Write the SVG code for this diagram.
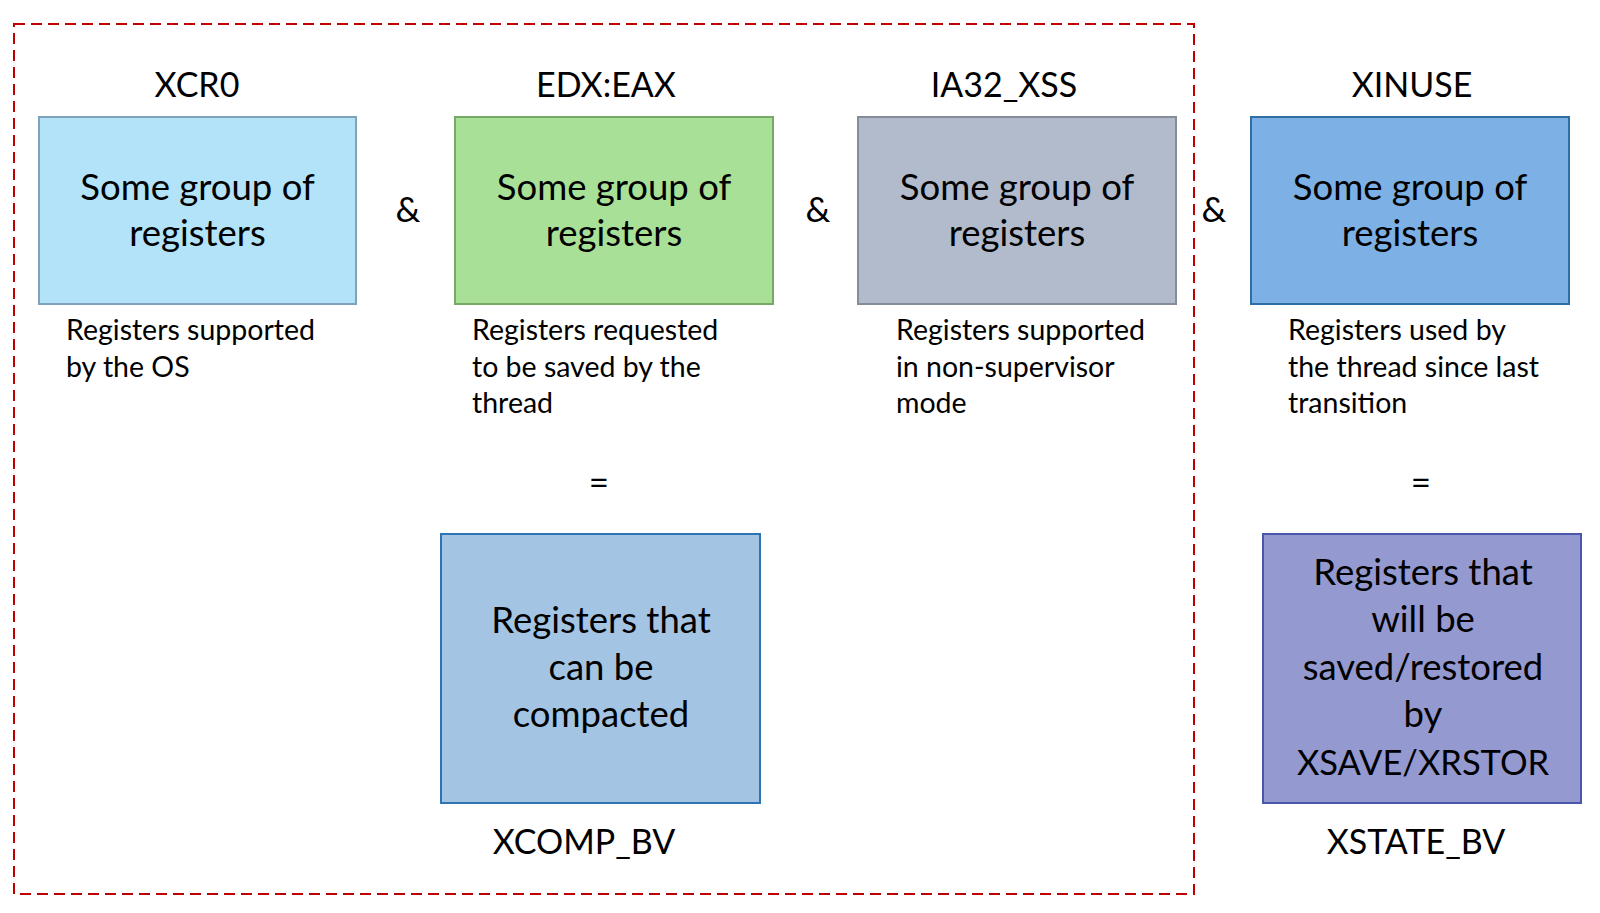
<svg xmlns="http://www.w3.org/2000/svg" width="1600" height="913" viewBox="0 0 1600 913">
<style>
text{font-family:Lato,"Liberation Sans",sans-serif;fill:#000}
.t{font-size:34px;text-anchor:middle}
.b{font-size:36.5px;text-anchor:middle}
.s{font-size:28.5px}
.op{font-size:35px;text-anchor:middle}
rect.n{stroke-width:2}
</style>
<rect x="14" y="24" width="1180" height="870" fill="none" stroke="#c00000" stroke-width="2" stroke-dasharray="11 6"/>
<g id="connectors"></g>
<g id="xcr0">
<text class="t" x="197" y="97">XCR0</text>
<rect class="n" x="39" y="117" width="317" height="187" fill="#b3e3f8" stroke="#7fa3b9"/>
<text class="b" x="197.5" y="200">Some group of</text>
<text class="b" x="197.5" y="246">registers</text>
<text class="s" x="66" y="340">Registers supported</text>
<text class="s" x="66" y="377">by the OS</text>
</g>
<g id="and1"><text class="op" x="408" y="222">&amp;</text></g>
<g id="edxeax">
<text class="t" x="606" y="97">EDX:EAX</text>
<rect class="n" x="455" y="117" width="318" height="187" fill="#a9e097" stroke="#78a868"/>
<text class="b" x="614" y="200">Some group of</text>
<text class="b" x="614" y="246">registers</text>
<text class="s" x="472" y="340">Registers requested</text>
<text class="s" x="472" y="377">to be saved by the</text>
<text class="s" x="472" y="413">thread</text>
</g>
<g id="and2"><text class="op" x="818" y="222">&amp;</text></g>
<g id="ia32xss">
<text class="t" x="1004" y="97">IA32_XSS</text>
<rect class="n" x="858" y="117" width="318" height="187" fill="#b1bbcc" stroke="#858d9a"/>
<text class="b" x="1017" y="200">Some group of</text>
<text class="b" x="1017" y="246">registers</text>
<text class="s" x="896" y="340">Registers supported</text>
<text class="s" x="896" y="377">in non-supervisor</text>
<text class="s" x="896" y="413">mode</text>
</g>
<g id="and3"><text class="op" x="1214" y="222">&amp;</text></g>
<g id="xinuse">
<text class="t" x="1412" y="97">XINUSE</text>
<rect class="n" x="1251" y="117" width="318" height="187" fill="#7db0e4" stroke="#2f6ea5"/>
<text class="b" x="1410" y="200">Some group of</text>
<text class="b" x="1410" y="246">registers</text>
<text class="s" x="1288" y="340">Registers used by</text>
<text class="s" x="1288" y="377">the thread since last</text>
<text class="s" x="1288" y="413">transition</text>
</g>
<g id="eq1"><text class="op" x="599" y="495">=</text></g>
<g id="eq2"><text class="op" x="1421" y="495">=</text></g>
<g id="xcomp">
<rect class="n" x="441" y="534" width="319" height="269" fill="#a3c4e2" stroke="#2e74b5"/>
<text class="b" x="601" y="633">Registers that</text>
<text class="b" x="601" y="680">can be</text>
<text class="b" x="601" y="727">compacted</text>
<text class="t" x="584" y="854">XCOMP_BV</text>
</g>
<g id="xstate">
<rect class="n" x="1263" y="534" width="318" height="269" fill="#9499d0" stroke="#4a56ab"/>
<text class="b" x="1423" y="585">Registers that</text>
<text class="b" x="1423" y="632">will be</text>
<text class="b" x="1423" y="680">saved/restored</text>
<text class="b" x="1423" y="727">by</text>
<text class="b" x="1423" y="775" style="font-size:34.5px">XSAVE/XRSTOR</text>
<text class="t" x="1416" y="854">XSTATE_BV</text>
</g>
</svg>
